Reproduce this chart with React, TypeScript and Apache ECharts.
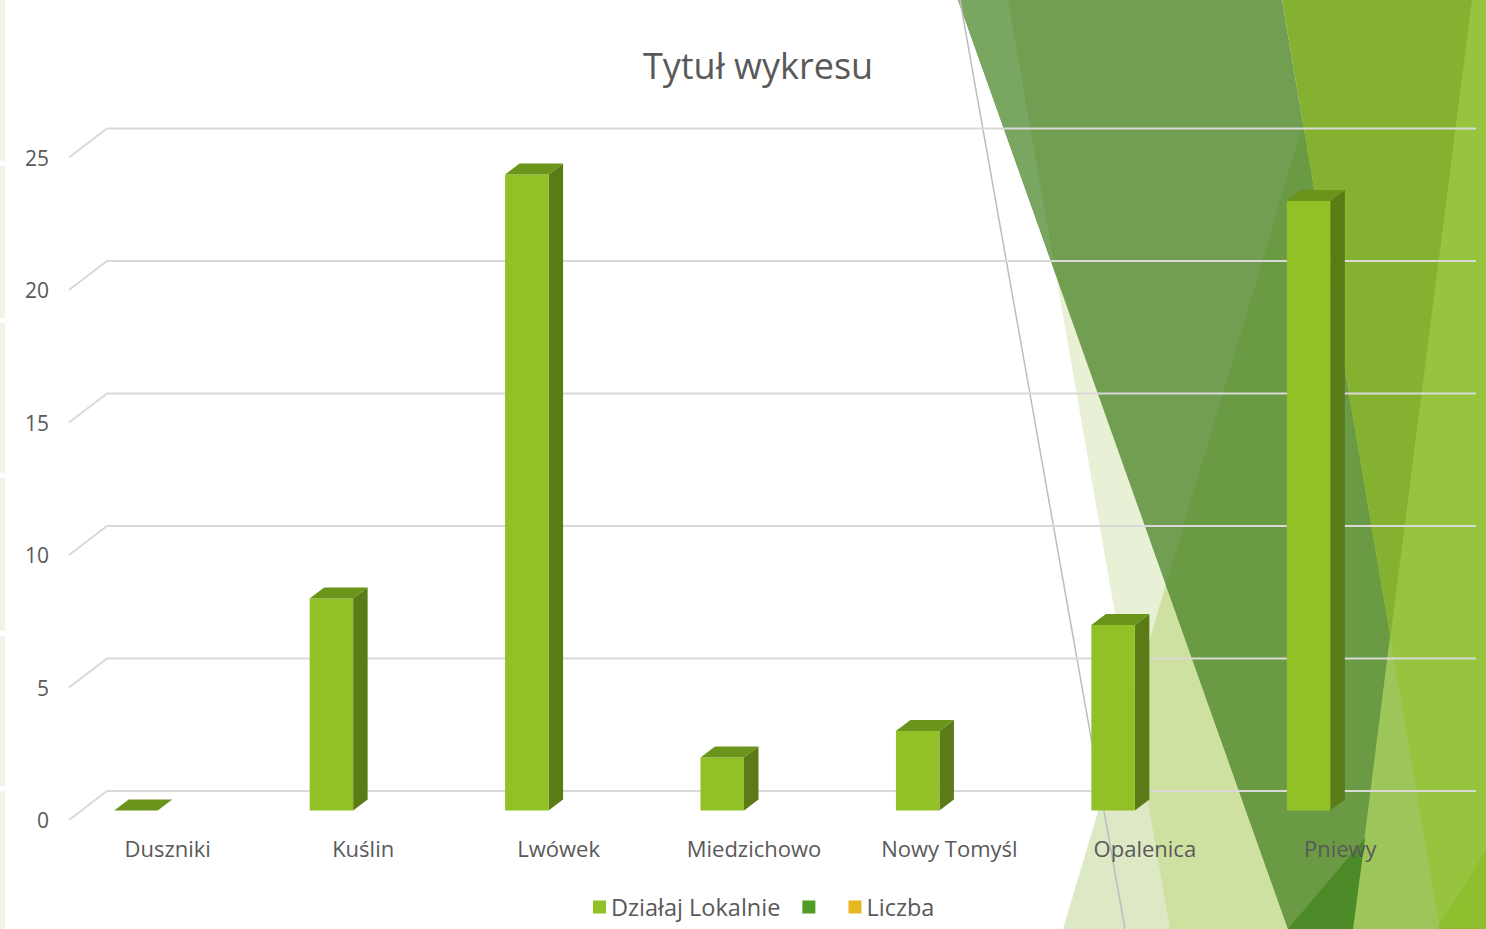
import React, { useEffect, useRef } from "react";
import * as echarts from "echarts";

const categories = ["Duszniki", "Kuślin", "Lwówek", "Miedzichowo", "Nowy Tomyśl", "Opalenica", "Pniewy"];
const dzialajLokalnie = [0, 8, 24, 2, 3, 7, 23];
const yTicks = [0, 5, 10, 15, 20, 25];
const legendNames = ["Działaj Lokalnie", " ", "Liczba"];
const titleText = "Tytuł wykresu";

const FONT = "'Open Sans', 'DejaVu Sans', sans-serif";
const TEXT = "#595959";
const FRONT = "#92C127";
const SIDE = "#5B7B17";
const TOP = "#6A941A";

type P = [number, number];
const poly = (points: P[], fill: string) => ({
  type: "polygon",
  z: -10,
  silent: true,
  shape: { points },
  style: { fill },
});

function background() {
  const els: any[] = [
    poly([[1008, 0], [1486, 0], [1486, 929], [1170, 929]], "#E8F0D6"),
    poly([[1340, 0], [1486, 0], [1486, 929], [1063, 929]], "#DDE9C4"),
    poly([[1340, 0], [1486, 0], [1486, 929], [1170, 929], [1131, 703]], "#CFE1A1"),
    poly([[958, 0], [1282, 0], [1440, 929], [1288, 929]], "#729E52"),
    poly([[958, 0], [1008, 0], [1055, 270]], "#79A762"),
    poly([[1303, 124], [1166, 585], [1288, 929], [1440, 929]], "#6A9A43"),
    poly([[1282, 0], [1486, 0], [1486, 929], [1440, 929]], "#84B230"),
    poly([[1472, 0], [1486, 0], [1486, 929], [1353, 929]], "#97C43E"),
    poly([[1390, 637], [1440, 929], [1353, 929]], "#9CC65A"),
    poly([[1288, 929], [1365, 838], [1353, 929]], "#4B8A26"),
    poly([[1437, 929], [1486, 850], [1486, 929]], "#8DBF2E"),
    {
      type: "line",
      z: -9,
      silent: true,
      shape: { x1: 960, y1: 0, x2: 1125, y2: 929 },
      style: { stroke: "#BDBDBD", lineWidth: 1.5 },
    },
  ];
  const segs: P[] = [[0, 161], [166, 318], [323, 473], [478, 631], [636, 786], [791, 929]];
  segs.forEach(([a, b]) =>
    els.push({
      type: "rect",
      z: -10,
      silent: true,
      shape: { x: 0, y: a, width: 5, height: b - a },
      style: { fill: "#EEF4E7" },
    })
  );
  return els;
}

export default function App() {
  const ref = useRef<HTMLDivElement>(null);
  useEffect(() => {
    const chart = echarts.init(ref.current!, null, { renderer: "svg" });
    chart.setOption({
      animation: false,
      backgroundColor: "#ffffff",
      textStyle: { fontFamily: FONT },
      title: {
        text: titleText,
        left: 753,
        top: 42,
        textAlign: "center",
        textStyle: { fontFamily: FONT, fontSize: 36, fontWeight: "normal", color: TEXT },
      },
      graphic: background(),
      legend: {
        data: legendNames,
        left: 588,
        top: 890,
        icon: "rect",
        itemWidth: 13,
        itemHeight: 13,
        itemGap: 22,
        textStyle: { fontFamily: FONT, fontSize: 23.5, color: TEXT },
      },
      grid: { left: 70, right: 48, top: 157.5, bottom: 109, containLabel: false },
      xAxis: {
        type: "category",
        data: categories,
        axisLine: { show: false },
        axisTick: { show: false },
        axisLabel: { color: TEXT, fontSize: 22, fontFamily: FONT, margin: 17, interval: 0 },
      },
      yAxis: {
        type: "value",
        min: 0,
        max: 25,
        interval: 5,
        axisLine: { show: false },
        axisTick: { show: false },
        splitLine: { show: false },
        axisLabel: { color: TEXT, fontSize: 21, fontFamily: FONT, margin: 21 },
      },
      series: [
        {
          type: "custom",
          name: "gridlines",
          z: 1,
          silent: true,
          data: yTicks.map((v) => [0, v]),
          encode: { x: 0, y: 1 },
          renderItem: (params: any, api: any) => {
            const y = api.coord([0, api.value(1)])[1];
            const cs = params.coordSys;
            const x0 = cs.x - 1;
            return {
              type: "polyline",
              shape: { points: [[x0, y], [x0 + 38, y - 29], [cs.x + cs.width + 38, y - 29]] },
              style: { stroke: "#D9D9D9", lineWidth: 2, fill: "none" },
            };
          },
        },
        {
          type: "custom",
          name: legendNames[0],
          z: 3,
          itemStyle: { color: FRONT },
          data: dzialajLokalnie.map((v, i) => [i, v]),
          encode: { x: 0, y: 1 },
          renderItem: (params: any, api: any) => {
            const idx = api.value(0);
            const v = api.value(1);
            const t = api.coord([idx, v]);
            const b = api.coord([idx, 0]);
            const cx = t[0];
            const yT = t[1] - 9.5;
            const yB = b[1] - 9.5;
            const xl = cx - 53.5;
            const xr = cx - 10;
            const dx = 14.5;
            const dy = -11;
            return {
              type: "group",
              children: [
                {
                  type: "polygon",
                  shape: { points: [[xr, yT], [xr + dx, yT + dy], [xr + dx, yB + dy], [xr, yB]] },
                  style: { fill: SIDE },
                },
                {
                  type: "rect",
                  shape: { x: xl, y: yT, width: xr - xl, height: yB - yT },
                  style: { fill: FRONT },
                },
                {
                  type: "polygon",
                  shape: { points: [[xl, yT], [xr, yT], [xr + dx, yT + dy], [xl + dx, yT + dy]] },
                  style: { fill: TOP },
                },
              ],
            };
          },
        },
        { type: "bar", name: legendNames[1], data: [], itemStyle: { color: "#4F9D22" } },
        { type: "bar", name: legendNames[2], data: [], itemStyle: { color: "#E6B820" } },
      ],
    });
    return () => chart.dispose();
  }, []);
  return (
    <div
      ref={ref}
      style={{ position: "absolute", left: 0, top: 0, width: 1486, height: 929, background: "#fff" }}
    />
  );
}
